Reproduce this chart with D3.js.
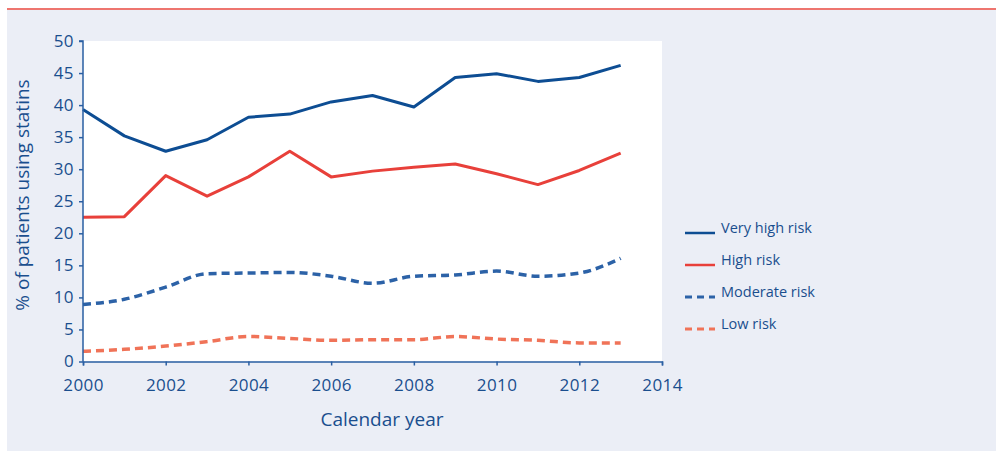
<!DOCTYPE html>
<html>
<head>
<meta charset="utf-8">
<script src="https://cdn.jsdelivr.net/npm/d3@7"></script>
<style>
  html, body { margin: 0; padding: 0; background: #ffffff; }
  svg { display: block; font-family: "Open Sans", "Noto Sans", sans-serif; }
</style>
</head>
<body>
<svg id="chart" width="996" height="451"></svg>
<script>
// Statin use by cardiovascular risk group, 2000-2013
const years = [2000, 2001, 2002, 2003, 2004, 2005, 2006, 2007, 2008, 2009, 2010, 2011, 2012, 2013];
const veryHighRisk = [39.3, 35.2, 32.8, 34.6, 38.1, 38.6, 40.5, 41.5, 39.7, 44.3, 44.9, 43.7, 44.3, 46.2];
const highRisk     = [22.5, 22.6, 29.0, 25.8, 28.8, 32.8, 28.8, 29.7, 30.3, 30.8, 29.3, 27.6, 29.8, 32.5];
const moderateRisk = [8.9, 9.7, 11.6, 13.7, 13.8, 13.9, 13.3, 12.2, 13.3, 13.5, 14.1, 13.3, 13.8, 16.1];
const lowRisk      = [1.6, 1.9, 2.4, 3.1, 3.9, 3.6, 3.3, 3.4, 3.4, 3.9, 3.5, 3.3, 2.9, 2.9];
const seriesNames  = ["Very high risk", "High risk", "Moderate risk", "Low risk"];
const xTicks = [2000, 2002, 2004, 2006, 2008, 2010, 2012, 2014];
const yTicks = [0, 5, 10, 15, 20, 25, 30, 35, 40, 45, 50];

const textColor = "#1a4e8e";
const axisColor = "#2a5fa3";

const series = [
  { name: seriesNames[0], values: veryHighRisk, color: "#0d4d93", dash: null, width: 3, curve: d3.curveLinear },
  { name: seriesNames[1], values: highRisk, color: "#e8403a", dash: null, width: 3, curve: d3.curveLinear },
  { name: seriesNames[2], values: moderateRisk, color: "#2c62a7", dash: "8,5", width: 3.5, curve: d3.curveMonotoneX },
  { name: seriesNames[3], values: lowRisk, color: "#f07358", dash: "8,5", width: 3.5, curve: d3.curveMonotoneX }
];

const svg = d3.select("#chart");

// page frame: rule at top, tinted panel below
svg.append("rect").attr("x", 7).attr("y", 10).attr("width", 989).attr("height", 441).attr("fill", "#ebeef6");
svg.append("line").attr("x1", 7).attr("x2", 996).attr("y1", 9).attr("y2", 9)
  .attr("stroke", "#e8473f").attr("stroke-width", 1.5);

const x = d3.scaleLinear().domain([2000, 2014]).range([83, 662]);
const y = d3.scaleLinear().domain([0, 50]).range([361.5, 41]);

// plot background
svg.append("rect")
  .attr("x", x(2000)).attr("y", y(50))
  .attr("width", x(2014) - x(2000)).attr("height", y(0) - y(50))
  .attr("fill", "#ffffff");

// series lines
const plot = svg.append("g");
series.forEach(s => {
  const line = d3.line()
    .x((d, i) => x(years[i]))
    .y(d => y(d))
    .curve(s.curve);
  plot.append("path")
    .datum(s.values)
    .attr("d", line)
    .attr("fill", "none")
    .attr("stroke", s.color)
    .attr("stroke-width", s.width)
    .attr("stroke-dasharray", s.dash)
    .attr("stroke-linejoin", "round");
});

// axes
const xAxis = d3.axisBottom(x).tickValues(xTicks).tickFormat(d3.format("d")).tickSize(4).tickPadding(13);
const yAxis = d3.axisLeft(y).tickValues(yTicks).tickSize(4).tickPadding(5);

const gx = svg.append("g").attr("transform", `translate(0,${y(0)})`).call(xAxis);
const gy = svg.append("g").attr("transform", `translate(${x(2000)},0)`).call(yAxis);

[gx, gy].forEach(g => {
  g.select(".domain").attr("stroke", axisColor).attr("stroke-width", 1.5);
  g.selectAll(".tick line").attr("stroke", axisColor).attr("stroke-width", 1.5);
  g.selectAll(".tick text")
    .attr("fill", textColor)
    .style("font-size", "17px")
    .style("letter-spacing", "0.4px")
    .style("font-family", "'Open Sans', sans-serif");
});
gy.select(".domain").attr("d", `M-4,${y(50)}H0V${y(0)}`);

// axis titles
svg.append("text")
  .attr("x", 382).attr("y", 426)
  .attr("text-anchor", "middle")
  .attr("fill", textColor)
  .style("font-size", "19px")
  .text("Calendar year");

svg.append("text")
  .attr("transform", "translate(29,195) rotate(-90)")
  .attr("text-anchor", "middle")
  .attr("fill", textColor)
  .style("font-size", "19px")
  .text("% of patients using statins");

// legend
const legend = svg.append("g");
series.forEach((s, i) => {
  const ly = 233 + i * 32;
  legend.append("line")
    .attr("x1", 685).attr("x2", 715)
    .attr("y1", ly).attr("y2", ly)
    .attr("stroke", s.color)
    .attr("stroke-width", s.dash ? 3 : 2.5)
    .attr("stroke-dasharray", s.dash ? "7,5" : null);
  legend.append("text")
    .attr("x", 721).attr("y", ly - 5)
    .attr("dy", "0.35em")
    .attr("fill", textColor)
    .style("font-size", "14.5px")
    .text(s.name);
});
</script>
</body>
</html>
